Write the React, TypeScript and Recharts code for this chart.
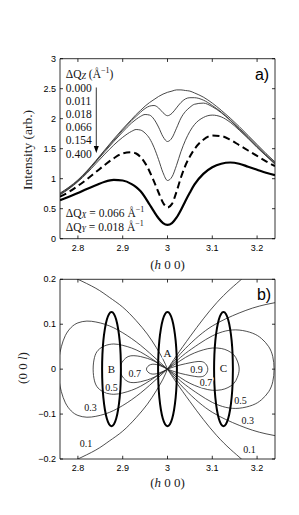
import React from 'react';
import {
  LineChart, Line, XAxis, YAxis, ReferenceArea, ReferenceLine, ReferenceDot,
  ScatterChart, Scatter,
} from 'recharts';

// ---------- panel a) data ----------
const hGrid = [2.76, 2.78, 2.80, 2.82, 2.84, 2.86, 2.88, 2.90, 2.92, 2.93, 2.94, 2.95, 2.96, 2.97, 2.98, 2.99, 3.00, 3.01, 3.02, 3.03, 3.04, 3.05, 3.06, 3.08, 3.10, 3.12, 3.14, 3.16, 3.18, 3.20, 3.22, 3.24];
const dqz000 = [0.76, 0.86, 0.98, 1.13, 1.30, 1.48, 1.66, 1.83, 1.99, 2.07, 2.14, 2.21, 2.27, 2.32, 2.37, 2.41, 2.44, 2.46, 2.48, 2.48, 2.47, 2.46, 2.43, 2.36, 2.26, 2.14, 2.01, 1.87, 1.72, 1.57, 1.42, 1.28];
const dqz011 = [0.75, 0.85, 0.97, 1.12, 1.29, 1.47, 1.64, 1.81, 1.97, 2.04, 2.11, 2.17, 2.21, 2.22, 2.18, 2.10, 2.05, 2.09, 2.18, 2.27, 2.33, 2.35, 2.35, 2.31, 2.22, 2.11, 1.98, 1.84, 1.70, 1.55, 1.40, 1.26];
const dqz018 = [0.74, 0.84, 0.96, 1.11, 1.28, 1.45, 1.62, 1.78, 1.93, 1.99, 2.04, 2.07, 2.06, 1.99, 1.86, 1.70, 1.62, 1.68, 1.84, 2.01, 2.12, 2.19, 2.24, 2.26, 2.20, 2.10, 1.97, 1.83, 1.68, 1.53, 1.39, 1.25];
const dqz066 = [0.73, 0.83, 0.95, 1.09, 1.25, 1.41, 1.56, 1.69, 1.79, 1.82, 1.81, 1.76, 1.67, 1.52, 1.32, 1.10, 0.97, 1.03, 1.22, 1.45, 1.64, 1.79, 1.90, 2.02, 2.06, 2.03, 1.94, 1.81, 1.67, 1.52, 1.38, 1.24];
const dqz154 = [0.70, 0.78, 0.88, 0.99, 1.11, 1.23, 1.34, 1.42, 1.44, 1.42, 1.36, 1.26, 1.12, 0.95, 0.77, 0.60, 0.52, 0.58, 0.78, 1.02, 1.22, 1.37, 1.49, 1.65, 1.72, 1.71, 1.65, 1.56, 1.47, 1.38, 1.29, 1.21];
const dqz400 = [0.64, 0.70, 0.76, 0.83, 0.89, 0.95, 0.98, 0.97, 0.91, 0.86, 0.79, 0.69, 0.57, 0.45, 0.34, 0.26, 0.23, 0.26, 0.35, 0.48, 0.63, 0.77, 0.90, 1.08, 1.19, 1.25, 1.27, 1.25, 1.20, 1.15, 1.10, 1.06];
const dqzLabels = ['0.000', '0.011', '0.018', '0.066', '0.154', '0.400'];
const dqzLabelY = [2.51, 2.30, 2.08, 1.86, 1.64, 1.42];

const topXTicks = [2.8, 2.9, 3, 3.1, 3.2];
const topYTicks = [0, 0.5, 1, 1.5, 2, 2.5, 3];
const hDomain = [2.76, 3.24];
const intDomain = [0, 3];

const topData = hGrid.map((h, i) => ({
  h, s0: dqz000[i], s1: dqz011[i], s2: dqz018[i], s3: dqz066[i], s4: dqz154[i], s5: dqz400[i],
}));

// ---------- panel b) data ----------
const lDomain = [-0.2, 0.2];
const botYTicks = [-0.2, -0.1, 0, 0.1, 0.2];
const ellipseCenters = [2.875, 3.0, 3.125];
const ellipseDH = [0.021, 0.0203, 0.0182, 0.0148, 0.0105, 0.0054, 0, -0.0054, -0.0105, -0.0148, -0.0182, -0.0203, -0.021, -0.0203, -0.0182, -0.0148, -0.0105, -0.0054, 0, 0.0054, 0.0105, 0.0148, 0.0182, 0.0203, 0.021];
const ellipseDL = [0, 0.0329, 0.0635, 0.0898, 0.11, 0.1227, 0.127, 0.1227, 0.11, 0.0898, 0.0635, 0.0329, 0, -0.0329, -0.0635, -0.0898, -0.11, -0.1227, -0.127, -0.1227, -0.11, -0.0898, -0.0635, -0.0329, 0];

// upper halves of closed contour loops (centre -> tip)
const right09 = [[3.0, 0], [3.02, 0.007], [3.04, 0.012], [3.06, 0.016], [3.075, 0.017], [3.085, 0.012], [3.09, 0]];
const right07 = [[3.0, 0], [3.02, 0.013], [3.04, 0.026], [3.06, 0.036], [3.08, 0.043], [3.10, 0.047], [3.12, 0.046], [3.135, 0.041], [3.148, 0.032], [3.156, 0.018], [3.16, 0]];
const right05 = [[3.0, 0], [3.02, 0.018], [3.04, 0.035], [3.07, 0.056], [3.10, 0.074], [3.13, 0.085], [3.16, 0.087], [3.19, 0.080], [3.21, 0.068], [3.226, 0.050], [3.235, 0.028], [3.238, 0]];
const left09 = [[3.0, 0], [2.99, 0.005], [2.98, 0.009], [2.97, 0.011], [2.962, 0.010], [2.956, 0.006], [2.953, 0]];
const left07 = [[3.0, 0], [2.985, 0.009], [2.97, 0.018], [2.955, 0.024], [2.94, 0.028], [2.925, 0.030], [2.912, 0.028], [2.902, 0.020], [2.896, 0.010], [2.895, 0]];
const left05 = [[3.0, 0], [2.98, 0.013], [2.96, 0.026], [2.94, 0.038], [2.92, 0.047], [2.90, 0.053], [2.88, 0.056], [2.86, 0.052], [2.845, 0.042], [2.837, 0.026], [2.834, 0]];
const left03 = [[3.0, 0], [2.98, 0.018], [2.96, 0.036], [2.94, 0.053], [2.92, 0.068], [2.90, 0.081], [2.88, 0.092], [2.86, 0.100], [2.84, 0.105], [2.82, 0.107], [2.80, 0.103], [2.785, 0.093], [2.772, 0.075], [2.763, 0.05], [2.758, 0.025], [2.757, 0]];
// open contour branches (centre -> plot edge), upper halves
const right03 = [[3.0, 0], [3.02, 0.024], [3.04, 0.046], [3.07, 0.074], [3.10, 0.096], [3.13, 0.112], [3.16, 0.125], [3.19, 0.136], [3.22, 0.144], [3.25, 0.150]];
const right01 = [[3.0, 0], [3.02, 0.030], [3.05, 0.072], [3.08, 0.112], [3.11, 0.148], [3.14, 0.178], [3.165, 0.2], [3.18, 0.215]];
const left01 = [[3.0, 0], [2.99, 0.022], [2.975, 0.048], [2.955, 0.078], [2.93, 0.108], [2.90, 0.138], [2.87, 0.160], [2.84, 0.180], [2.80, 0.2], [2.78, 0.21]];

const contourLabels = [
  { h: 3.0, l: 0.037, t: 'A', s: 11 },
  { h: 2.875, l: 0.0, t: 'B', s: 11 },
  { h: 3.125, l: 0.002, t: 'C', s: 11 },
  { h: 2.927, l: -0.010, t: '0.7', s: 10 },
  { h: 3.065, l: 0.0, t: '0.9', s: 10 },
  { h: 3.086, l: -0.030, t: '0.7', s: 10 },
  { h: 2.875, l: -0.040, t: '0.5', s: 10 },
  { h: 3.163, l: -0.069, t: '0.5', s: 10 },
  { h: 2.828, l: -0.085, t: '0.3', s: 10 },
  { h: 3.179, l: -0.115, t: '0.3', s: 10 },
  { h: 2.818, l: -0.166, t: '0.1', s: 10 },
  { h: 3.183, l: -0.178, t: '0.1', s: 10 },
];

const toPts = (arr: number[][]) => arr.map(([h, l]) => ({ h, l }));
const mirror = (arr: number[][]) => arr.map(([h, l]) => [h, -l]);
const closeLoop = (upper: number[][]) => [...upper, ...mirror(upper.slice(0, -1).reverse())];

const loops = [right09, right07, right05, left09, left07, left05, left03].map((u) => toPts(closeLoop(u)));
const branches = [right03, right01, left01].flatMap((u) => [toPts(u), toPts(mirror(u))]);
const ellipses = ellipseCenters.map((c) => ellipseDH.map((dh, i) => ({ h: c + dh, l: ellipseDL[i] })));

const SANS = 'Liberation Sans, Arial, sans-serif';
const SERIF = 'Liberation Serif, Times New Roman, serif';
const tickStyle = { fontSize: 9, fill: '#000', fontFamily: SANS };

const hTickLen = (hDomain[1] - hDomain[0]) * 0.014;
const fmtMinus = (v: number) => (v < 0 ? '\u2212' + Math.abs(v) : String(v));

function boxTicks(xTicks: number[], yTicks: number[], xd: number[], yd: number[], prefix: string) {
  const yLen = (yd[1] - yd[0]) * 0.018;
  const out: React.ReactNode[] = [];
  xTicks.forEach((t) => {
    out.push(<ReferenceLine key={prefix + 'xb' + t} segment={[{ x: t, y: yd[0] }, { x: t, y: yd[0] + yLen }]} stroke="#000" strokeWidth={0.8} />);
    out.push(<ReferenceLine key={prefix + 'xt' + t} segment={[{ x: t, y: yd[1] }, { x: t, y: yd[1] - yLen }]} stroke="#000" strokeWidth={0.8} />);
  });
  yTicks.forEach((t) => {
    out.push(<ReferenceLine key={prefix + 'yl' + t} segment={[{ x: xd[0], y: t }, { x: xd[0] + hTickLen, y: t }]} stroke="#000" strokeWidth={0.8} />);
    out.push(<ReferenceLine key={prefix + 'yr' + t} segment={[{ x: xd[1], y: t }, { x: xd[1] - hTickLen, y: t }]} stroke="#000" strokeWidth={0.8} />);
  });
  return out;
}

const textAt = (content: React.ReactNode, size: number, halo = false, anchor: 'start' | 'middle' = 'start') => (p: any) => (
  <text
    x={p.cx}
    y={p.cy}
    fontSize={size}
    fontFamily={SERIF}
    fill="#111"
    textAnchor={anchor}
    dominantBaseline="central"
    stroke={halo ? '#fff' : 'none'}
    strokeWidth={halo ? 3 : 0}
    style={{ paintOrder: 'stroke' } as any}
  >
    {content}
  </text>
);

const arrowShape = (p: any) => (
  <g>
    <line x1={p.x1} y1={p.y1} x2={p.x2} y2={p.y2 - 6} stroke="#000" strokeWidth={0.8} />
    <path d={`M${p.x2 - 2.5},${p.y2 - 7} L${p.x2 + 2.5},${p.y2 - 7} L${p.x2},${p.y2} Z`} fill="#000" />
  </g>
);

const emptyShape = () => <g />;

export default function App() {
  return (
    <div style={{ position: 'absolute', left: 0, top: 0, width: 299, height: 515, background: '#fff' }}>
      <div style={{ position: 'absolute', left: 0, top: 0 }}>
        <LineChart width={299} height={260} data={topData} margin={{ top: 58.7, right: 24, bottom: 1.3, left: 0 }}>
          <XAxis dataKey="h" type="number" domain={hDomain} ticks={topXTicks} allowDataOverflow height={20}
            tickSize={0} tickMargin={6} axisLine={false} tick={tickStyle} />
          <YAxis type="number" domain={intDomain} ticks={topYTicks} allowDataOverflow width={60}
            tickSize={0} tickMargin={4} axisLine={false} tick={tickStyle} />
          <ReferenceArea x1={hDomain[0]} x2={hDomain[1]} y1={intDomain[0]} y2={intDomain[1]} fill="none" fillOpacity={0} stroke="#000" strokeWidth={0.8} />
          {boxTicks(topXTicks, topYTicks, hDomain, intDomain, 't')}
          <Line dataKey="s0" type="monotone" stroke="#333" strokeWidth={0.9} dot={false} isAnimationActive={false} />
          <Line dataKey="s1" type="monotone" stroke="#333" strokeWidth={0.9} dot={false} isAnimationActive={false} />
          <Line dataKey="s2" type="monotone" stroke="#333" strokeWidth={0.9} dot={false} isAnimationActive={false} />
          <Line dataKey="s3" type="monotone" stroke="#333" strokeWidth={0.9} dot={false} isAnimationActive={false} />
          <Line dataKey="s4" type="monotone" stroke="#000" strokeWidth={2} strokeDasharray="7 4" dot={false} isAnimationActive={false} />
          <Line dataKey="s5" type="monotone" stroke="#000" strokeWidth={2.2} dot={false} isAnimationActive={false} />
          <ReferenceDot x={2.773} y={2.745} r={0} shape={textAt(
            <>
              {'\u0394Q'}
              <tspan fontSize={8} fontStyle="italic" dy={2}>Z</tspan>
              <tspan dy={-2}>{' (\u00C5'}</tspan>
              <tspan fontSize={8} dy={-4}>{'\u22121'}</tspan>
              <tspan dy={4}>)</tspan>
            </>, 11.5)} />
          {dqzLabels.map((t, i) => (
            <ReferenceDot key={'dq' + i} x={2.773} y={dqzLabelY[i]} r={0} shape={textAt(t, 11.5)} />
          ))}
          <ReferenceLine segment={[{ x: 2.841, y: 2.52 }, { x: 2.841, y: 1.43 }]} shape={arrowShape} />
          <ReferenceDot x={2.773} y={0.43} r={0} shape={textAt(
            <>
              {'\u0394Q'}
              <tspan fontSize={8} fontStyle="italic" dy={2}>X</tspan>
              <tspan dy={-2}>{' = 0.066 \u00C5'}</tspan>
              <tspan fontSize={8} dy={-4}>{'\u22121'}</tspan>
            </>, 11.5)} />
          <ReferenceDot x={2.773} y={0.19} r={0} shape={textAt(
            <>
              {'\u0394Q'}
              <tspan fontSize={8} fontStyle="italic" dy={2}>Y</tspan>
              <tspan dy={-2}>{' = 0.018 \u00C5'}</tspan>
              <tspan fontSize={8} dy={-4}>{'\u22121'}</tspan>
            </>, 11.5)} />
        </LineChart>
      </div>

      <div style={{ position: 'absolute', left: 0, top: 260 }}>
        <ScatterChart width={299} height={255} margin={{ top: 19.3, right: 24, bottom: 36, left: 0 }}>
          <XAxis dataKey="h" type="number" domain={hDomain} ticks={topXTicks} allowDataOverflow height={20}
            tickSize={0} tickMargin={6} axisLine={false} tick={tickStyle} />
          <YAxis dataKey="l" type="number" domain={lDomain} ticks={botYTicks} allowDataOverflow width={60}
            tickSize={0} tickMargin={4} axisLine={false} tick={tickStyle} tickFormatter={fmtMinus} />
          <ReferenceArea x1={hDomain[0]} x2={hDomain[1]} y1={lDomain[0]} y2={lDomain[1]} fill="none" fillOpacity={0} stroke="#000" strokeWidth={0.8} />
          {boxTicks(topXTicks, botYTicks, hDomain, lDomain, 'b')}
          {loops.map((d, i) => (
            <Scatter key={'loop' + i} data={d} fill="#222" line={{ stroke: '#222', strokeWidth: 0.8 }} lineJointType="natural" shape={emptyShape} isAnimationActive={false} />
          ))}
          {branches.map((d, i) => (
            <Scatter key={'br' + i} data={d} fill="#222" line={{ stroke: '#222', strokeWidth: 0.8 }} lineJointType="natural" shape={emptyShape} isAnimationActive={false} />
          ))}
          {ellipses.map((d, i) => (
            <Scatter key={'el' + i} data={d} fill="#000" line={{ stroke: '#000', strokeWidth: 2 }} lineJointType="natural" shape={emptyShape} isAnimationActive={false} />
          ))}
          {contourLabels.map((c, i) => (
            <ReferenceDot key={'cl' + i} x={c.h} y={c.l} r={0} shape={textAt(c.t, c.s, true, 'middle')} />
          ))}
        </ScatterChart>
      </div>

      <svg width={299} height={515} style={{ position: 'absolute', left: 0, top: 0, pointerEvents: 'none' }}>
        <text x={27} y={150} transform="rotate(-90 27 150)" textAnchor="middle" dominantBaseline="central" fontFamily={SERIF} fontSize={13.5} fill="#222">Intensity (arb.)</text>
        <text x={167.5} y={264} textAnchor="middle" dominantBaseline="central" fontFamily={SERIF} fontSize={13} fill="#222">(<tspan fontStyle="italic">h</tspan> 0 0)</text>
        <text x={22} y={368} transform="rotate(-90 22 368)" textAnchor="middle" dominantBaseline="central" fontFamily={SERIF} fontSize={13} fill="#222">(0 0 <tspan fontStyle="italic">l</tspan>)</text>
        <text x={167.5} y={482} textAnchor="middle" dominantBaseline="central" fontFamily={SERIF} fontSize={13} fill="#222">(<tspan fontStyle="italic">h</tspan> 0 0)</text>
        <text x={262} y={74} textAnchor="middle" dominantBaseline="central" fontFamily={SANS} fontSize={16} fill="#000">a)</text>
        <text x={264} y={294} textAnchor="middle" dominantBaseline="central" fontFamily={SANS} fontSize={16} fill="#000">b)</text>
      </svg>
    </div>
  );
}
